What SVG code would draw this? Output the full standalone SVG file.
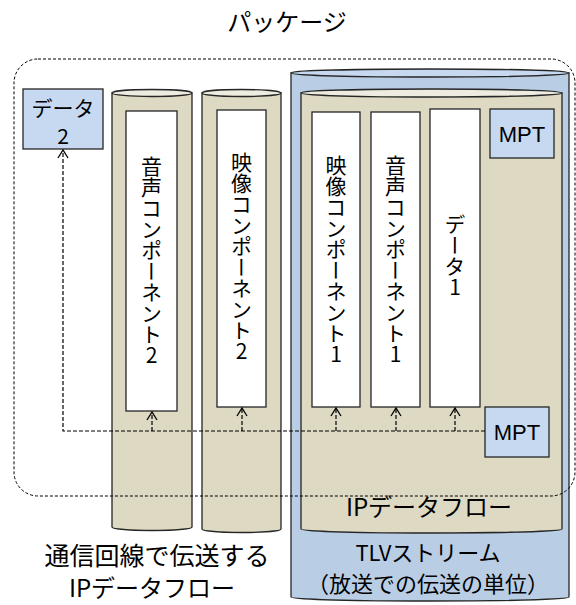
<svg xmlns="http://www.w3.org/2000/svg" width="576" height="605" viewBox="0 0 576 605">
<defs>
<style>
.t{font-family:"Noto Sans CJK JP","Liberation Sans",sans-serif;fill:#000}
.v{font-family:"Noto Sans CJK JP",sans-serif;font-size:21px;writing-mode:vertical-rl;text-orientation:upright;fill:#000}
.beige{fill:#ddd9c3;stroke:#262626;stroke-width:1.3}
.blue{fill:#b9cde5;stroke:#262626;stroke-width:1.3}
.lid{fill:#eeece1;stroke:#262626;stroke-width:1.3}
.lidb{fill:#c6d9f1;stroke:#262626;stroke-width:1.3}
.white{fill:#fff;stroke:#262626;stroke-width:1.3}
.box{fill:#c6d9f1;stroke:#262626;stroke-width:1.3}
.dash{fill:none;stroke:#000;stroke-width:1.2;stroke-dasharray:4,2}
.head{fill:none;stroke:#000;stroke-width:1.3}
.pk{fill:none;stroke:#000;stroke-width:1;stroke-dasharray:3,2}
.lat{font-family:"Liberation Sans","Noto Sans CJK JP",sans-serif}
</style>
<marker id="ah" viewBox="-6 -1 12 10" refX="0" refY="0" markerWidth="12" markerHeight="10" markerUnits="userSpaceOnUse" orient="auto-start-reverse">
<path class="head" d="M-5,8 L0,0 L5,8" transform="rotate(90)"/>
</marker>
</defs>
<rect width="576" height="605" fill="#fff"/>
<text class="t" x="287" y="31" font-size="24" text-anchor="middle">パッケージ</text>

<g id="tlv">
<path class="blue" d="M291,73 L291,597 A139,4 0 0 0 569,597 L569,73 Z"/>
<ellipse class="lidb" cx="430" cy="73" rx="139" ry="4"/>
<text class="t" x="428" y="561" font-size="22" text-anchor="middle">TLVストリーム</text>
<text class="t" x="428" y="592" font-size="22" text-anchor="middle">（放送での伝送の単位）</text>
</g>

<g id="ipflow-bc">
<path class="beige" d="M301,93 L301,529 A130.5,4 0 0 0 562,529 L562,93 Z"/>
<ellipse class="lid" cx="431.5" cy="93" rx="130.5" ry="4"/>
<text class="t" x="429" y="516" font-size="24" text-anchor="middle">IPデータフロー</text>
</g>

<g id="ipflow-net1">
<path class="beige" d="M112,93 L112,527 A40,3.5 0 0 0 192,527 L192,93 Z"/>
<ellipse class="lid" cx="152" cy="93" rx="40" ry="3.5"/>
</g>
<g id="ipflow-net2">
<path class="beige" d="M202,93 L202,529 A39.5,3.5 0 0 0 281,529 L281,93 Z"/>
<ellipse class="lid" cx="241.5" cy="93" rx="39.5" ry="3.5"/>
</g>

<g id="audio2">
<rect class="white" x="126" y="111" width="51" height="300"/>
<text class="v" x="151.5" y="156">音声コンポーネント2</text>
</g>
<g id="video2">
<rect class="white" x="217" y="110" width="49" height="297"/>
<text class="v" x="241.5" y="152">映像コンポーネント2</text>
</g>
<g id="video1">
<rect class="white" x="312" y="112" width="48" height="295"/>
<text class="v" x="336" y="155">映像コンポーネント1</text>
</g>
<g id="audio1">
<rect class="white" x="371" y="112" width="49" height="295"/>
<text class="v" x="395.5" y="155">音声コンポーネント1</text>
</g>
<g id="data1">
<rect class="white" x="430" y="109" width="50" height="298"/>
<text class="v" x="455" y="214">データ1</text>
</g>
<g id="mpt-top">
<rect class="box" x="490" y="109" width="64" height="49"/>
<text class="t lat" x="522" y="142" font-size="22" text-anchor="middle">MPT</text>
</g>
<g id="mpt-bottom">
<rect class="box" x="485" y="407" width="64" height="50"/>
<text class="t lat" x="517" y="440" font-size="22" text-anchor="middle">MPT</text>
</g>
<g id="data2">
<rect class="box" x="23" y="89" width="80" height="60"/>
<text class="t" x="63" y="116" font-size="21" text-anchor="middle">データ</text>
<text class="t" x="63" y="144" font-size="21" text-anchor="middle">2</text>
</g>

<g id="connectors">
<path class="dash" d="M485,431 L63,431 L63,151"/>
<path class="dash" d="M152,431 L152,413"/>
<path class="dash" d="M242,431 L242,409"/>
<path class="dash" d="M336,431 L336,409"/>
<path class="dash" d="M396,431 L396,409"/>
<path class="dash" d="M455,431 L455,409"/>
<path class="head" d="M58,158 L63,150 L68,158"/>
<path class="head" d="M147,420 L152,412 L157,420"/>
<path class="head" d="M237,416 L242,408 L247,416"/>
<path class="head" d="M331,416 L336,408 L341,416"/>
<path class="head" d="M391,416 L396,408 L401,416"/>
<path class="head" d="M450,416 L455,408 L460,416"/>
</g>

<g id="package">
<rect class="pk" x="14" y="59" width="561" height="437" rx="24" ry="24"/>
</g>

<g id="label-net">
<text class="t" x="157" y="565" font-size="25" text-anchor="middle">通信回線で伝送する</text>
<text class="t" x="152" y="597" font-size="24" text-anchor="middle">IPデータフロー</text>
</g>
</svg>
